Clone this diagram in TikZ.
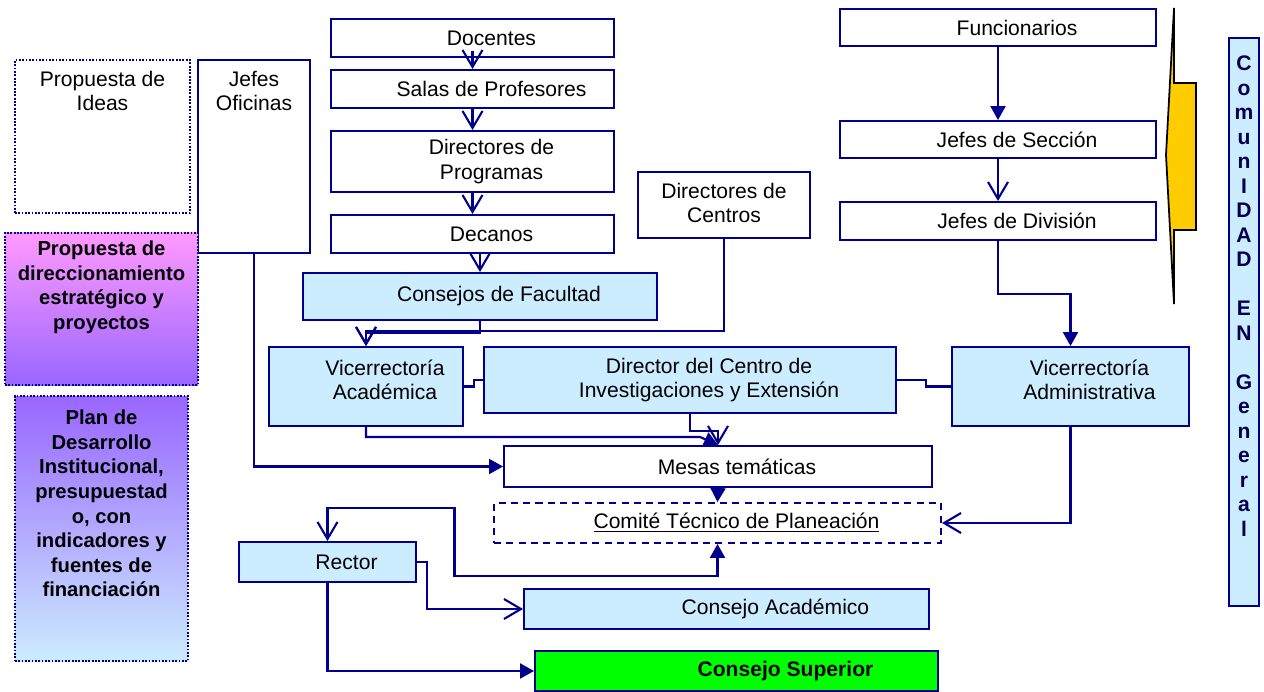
\documentclass[tikz,border=0pt]{standalone}
\usepackage{fontspec}
\setmainfont{Liberation Sans}
\usepackage{xcolor}
\definecolor{navyline}{RGB}{0,0,140}
\definecolor{navytext}{RGB}{0,0,80}
\definecolor{lightblue}{RGB}{204,236,255}
\definecolor{pinkish}{RGB}{255,153,255}
\definecolor{violetish}{RGB}{153,102,255}
\definecolor{brightgreen}{RGB}{0,255,0}
\definecolor{goldish}{RGB}{255,204,0}
\usepackage{tikz}
\usetikzlibrary{positioning}
\usetikzlibrary{fit}
\usetikzlibrary{arrows.meta}
\tikzset{base box/.style={draw=navyline,line width=1.1pt,inner sep=0pt},
  plain box/.style={base box,fill=white},
  blue box/.style={base box,fill=lightblue},
  dot box/.style={base box,line width=1pt,dash pattern=on 1pt off 0.9pt},
  box text/.style={xshift=0.38cm,align=center,font=\fontsize{12}{14}\selectfont},
  top text/.style={anchor=north,yshift=-0.1cm,align=center,font=\fontsize{12}{14}\selectfont},
  bold text/.style={anchor=north,yshift=-0.04cm,align=center,font=\bfseries\fontsize{11.5}{14}\selectfont},
  open arrow/.style={-{Straight Barb[length=0.34cm,width=0.4cm]}},
  solid arrow/.style={-{Triangle[length=0.28cm,width=0.3cm]}},}

\begin{document}
\begin{tikzpicture}[x=0.02cm,y=-0.02cm,line width=1.2pt,draw=navyline]
	\useasboundingbox (0,0) rectangle (1264,692);

	% left column
	\node[dot box, fit={(15,60) (190,213)}, label={[top text]north:Propuesta de\\Ideas}] (ideas) {};
	\node[plain box, fit={(198,60) (310,253)}, label={[top text]north:Jefes\\Oficinas}] (jefesof) {};
	\node[dot box, top color=pinkish, bottom color=violetish, fit={(5,233) (198,385)},
	  label={[bold text]north:Propuesta de\\direccionamiento\\estratégico y\\proyectos}] (propdir) {};
	\node[dot box, top color=violetish, bottom color=lightblue, fit={(15,396) (188,661)},
	  label={[bold text,yshift=-0.12cm]north:Plan de\\Desarrollo\\Institucional,\\presupuestad\\o, con\\indicadores y\\fuentes de\\financiación}] (plan) {};

	% academic chain
	\node[plain box, fit={(331,19) (614,57)}, label={[box text]center:Docentes}] (docentes) {};
	\node[plain box, fit={(331,70) (614,108)}, label={[box text]center:Salas de Profesores}] (salas) {};
	\node[plain box, fit={(331,131) (614,192)}, label={[box text]center:Directores de\\Programas}] (dirprog) {};
	\node[plain box, fit={(331,215) (614,253)}, label={[box text]center:Decanos}] (decanos) {};
	\node[blue box, fit={(303,273) (657,320)}, label={[box text]center:Consejos de Facultad}] (consfac) {};
	\node[plain box, fit={(638,172) (810,238)}, label={[top text]north:Directores de\\Centros}] (dircent) {};

	% vicerrectorias
	\node[blue box, fit={(269,347) (463,426)}, label={[box text,yshift=0.13cm]center:Vicerrectoría\\Académica}] (vacad) {};
	\node[blue box, fit={(484,347) (896,413)}, label={[box text]center:Director del Centro de\\Investigaciones y Extensión}] (dircie) {};
	\node[blue box, fit={(952,347) (1189,426)}, label={[box text,yshift=0.13cm]center:Vicerrectoría\\Administrativa}] (vadmin) {};

	\node[plain box, fit={(504,446) (932,487)}, label={[box text]center:Mesas temáticas}] (mesas) {};
	\node[base box, dash pattern=on 4pt off 3pt, fit={(494,503) (941,543)},
	  label={[box text]center:\underline{Comité Técnico de Planeación}}] (comite) {};
	\node[blue box, fit={(239,542) (416,582)}, label={[box text]center:Rector}] (rector) {};
	\node[blue box, fit={(524,589) (929,629)}, label={[box text,xshift=0.6cm]center:Consejo Académico}] (consacad) {};
	\node[base box, fill=brightgreen, fit={(535,651) (938,691)},
	  label={[box text,xshift=0.6cm,font=\bfseries\fontsize{12}{14}\selectfont]center:Consejo Superior}] (conssup) {};

	% administrative chain
	\node[plain box, fit={(840,9) (1156,46)}, label={[box text]center:Funcionarios}] (funcion) {};
	\node[plain box, fit={(840,121) (1156,158)}, label={[box text]center:Jefes de Sección}] (jsec) {};
	\node[plain box, fit={(840,202) (1156,240)}, label={[box text]center:Jefes de División}] (jdiv) {};

	% brace and community
	\draw[draw=black, fill=goldish, line width=1pt] (1174,8) -- (1174,83) -- (1196,83) -- (1196,230)
	  -- (1174,230) -- (1174,304) -- (1166,155) -- cycle;
	\node[blue box, fit={(1229,38) (1259,606)},
	  label={[anchor=north,yshift=-0.24cm,align=center,text=navytext,font=\bfseries\fontsize{12}{13.95}\selectfont]north:%
	  C\\o\\m\\u\\n\\I\\D\\A\\D\\\mbox{}\\E\\N\\\mbox{}\\G\\e\\n\\e\\r\\a\\l}] (comunidad) {};

	% connectors
	\path[draw]
	(vacad.east) -- ++(10,0) |- (dircie.west)
	(dircie.east) -- ++(29,0) |- (vadmin.west);

	\draw[open arrow] ([yshift=0.14cm]docentes.south) -- (salas.north);
	\draw[open arrow] (salas.south) -- (dirprog.north);
	\draw[open arrow] (dirprog.south) -- (decanos.north);
	\draw[open arrow] (consfac.north |- decanos.south) -- (consfac.north);
	\draw[open arrow] (consfac.south) -- ++(0,12) -| (vacad.north);
	\draw[open arrow] (dircent.south) -- ++(0,92) -| (vacad.north);
	\draw[solid arrow] (vacad.south) -- ++(0,10) -- ++(334,0) -- (mesas.north);
	\draw[open arrow] (dircie.south) -- ++(0,17) -| (mesas.north);
	\draw[solid arrow] (jefesof.south) |- (mesas.west);
	\draw[solid arrow] (mesas.south) -- (comite.north);
	\draw[open arrow] (vadmin.south) |- (comite.east);
	\draw[solid arrow] (funcion.south) -- (jsec.north);
	\draw[open arrow] (jsec.south) -- (jdiv.north);
	\draw[solid arrow] (jdiv.south) -- ++(0,53) -| (vadmin.north);
	\draw[{Straight Barb[length=0.34cm,width=0.4cm]}-{Triangle[length=0.28cm,width=0.3cm]}]
	  (rector.north) -- ++(0,-33) -| ++(127,68) -| (comite.south);
	\draw[open arrow] (rector.east) -- ++(10,0) |- (consacad.west);
	\draw[solid arrow] (rector.south) |- (conssup.west);
\end{tikzpicture}
\end{document}
